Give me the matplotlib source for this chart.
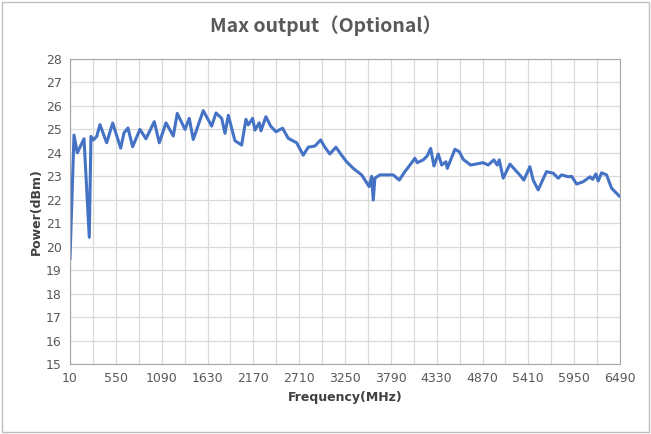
import matplotlib
matplotlib.use("Agg")
import matplotlib.pyplot as plt
import numpy as np

freq_mhz = [10, 57, 96, 175, 237, 257, 285, 325, 363, 442, 513, 607, 646, 693, 748, 834, 905,
            1003, 1062, 1141, 1227, 1274, 1365, 1415, 1462, 1580, 1679, 1730, 1797, 1836, 1875,
            1953, 2032, 2083, 2110, 2162, 2189, 2240, 2260, 2318, 2374, 2436, 2515, 2581, 2680,
            2758, 2817, 2896, 2963, 3013, 3072, 3143, 3210, 3269, 3347, 3446, 3535, 3564, 3583,
            3602, 3661, 3818, 3889, 3956, 4015, 4074, 4101, 4172, 4219, 4259, 4298, 4349, 4389,
            4439, 4455, 4545, 4596, 4643, 4730, 4878, 4937, 5004, 5043, 5067, 5114, 5193, 5311,
            5357, 5428, 5467, 5526, 5624, 5703, 5762, 5801, 5880, 5920, 5979, 6057, 6136, 6167,
            6206, 6233, 6273, 6332, 6391, 6481]
power_dbm = [19.5, 24.76, 24.0, 24.6, 20.4, 24.7, 24.55, 24.7, 25.2, 24.43, 25.27, 24.2, 24.85,
             25.06, 24.26, 25.0, 24.6, 25.33, 24.43, 25.28, 24.72, 25.68, 25.0, 25.47, 24.57,
             25.8, 25.14, 25.7, 25.47, 24.83, 25.6, 24.52, 24.33, 25.43, 25.19, 25.47, 24.97,
             25.28, 24.94, 25.54, 25.14, 24.9, 25.05, 24.62, 24.43, 23.9, 24.24, 24.29, 24.55,
             24.24, 23.95, 24.24, 23.9, 23.62, 23.34, 23.06, 22.56, 23.0, 21.99, 22.92, 23.06,
             23.06, 22.84, 23.2, 23.48, 23.77, 23.58, 23.7, 23.87, 24.19, 23.44, 23.95, 23.48,
             23.62, 23.34, 24.15, 24.05, 23.72, 23.48, 23.58, 23.48, 23.7, 23.48, 23.7, 22.92,
             23.52, 23.05, 22.84, 23.41, 22.84, 22.42, 23.2, 23.13, 22.92, 23.06, 22.98, 23.0,
             22.67, 22.77, 22.98, 22.87, 23.1, 22.8, 23.15, 23.06, 22.49, 22.16]

x_ticks = list(range(10, 6491, 540))
y_ticks = list(range(15, 29))

fig = plt.figure(figsize=(6.51, 4.34), dpi=100)
ax = fig.add_axes([70 / 651, 1 - 364 / 434, 550 / 651, 305 / 434])

ax.plot(freq_mhz, power_dbm, color="#4472C4", linewidth=2.2)

ax.set_xlim(10, 6490)
ax.set_ylim(15, 28)
ax.set_xticks(x_ticks)
ax.set_xticks(list(range(280, 6491, 540)), minor=True)
ax.set_yticks(y_ticks)
ax.grid(True, which="both", color="#D9D9D9", linewidth=0.9)
ax.tick_params(which="both", length=0, labelsize=9, colors="#595959", pad=6)
for s in ax.spines.values():
    s.set_color("#A6A6A6")
ax.set_axisbelow(True)

ax.set_xlabel("Frequency(MHz)", fontsize=9, fontweight="bold", color="#404040", labelpad=4)
ax.set_ylabel("Power(dBm)", fontsize=9, fontweight="bold", color="#404040", labelpad=2)
fig.text(0.5, 0.94, "Max output（Optional）", ha="center", va="center", fontsize=14,
         fontweight="bold", color="#595959", family=["Noto Sans CJK SC", "DejaVu Sans"])

border = plt.Rectangle((0.003, 0.004), 0.994, 0.992, transform=fig.transFigure,
                       fill=False, edgecolor="#BFBFBF", linewidth=1)
fig.add_artist(border)

fig.savefig("out.png", dpi=100)
